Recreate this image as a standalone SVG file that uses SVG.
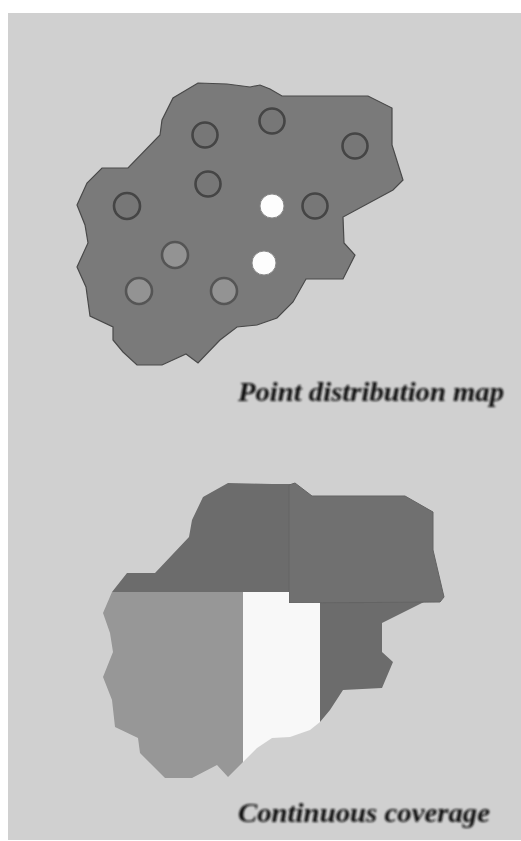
<svg xmlns="http://www.w3.org/2000/svg" width="521" height="841" viewBox="0 0 521 841">
<defs><filter id="soft" x="-5%" y="-5%" width="110%" height="110%"><feGaussianBlur stdDeviation="0.7"/></filter>
<filter id="softer" x="-5%" y="-20%" width="110%" height="140%"><feGaussianBlur stdDeviation="0.8"/></filter></defs>
<style>
.dot{stroke-width:2.6}
.d{fill:#777;stroke:#444}
.m{fill:#939393;stroke:#555}
.w{fill:#fdfdfd;stroke:#8a8a8a;stroke-width:1}
text{font-family:"Liberation Serif",serif;font-weight:bold;font-style:italic;font-size:27px;fill:#111}
</style>
<rect width="521" height="841" fill="#fff"/>
<rect x="8" y="13" width="513" height="827" fill="#d0d0d0"/>
<g filter="url(#soft)">
<g id="point-map">
<path id="region" fill="#7a7a7a" stroke="#4a4a4a" stroke-width="1.2" d="M198 83L227 84L250 87L260 85L270 89L282 96L368 96L392 108L392 145L403 180L393 190L343 217L344 243L355 255L343 279L306 279L293 302L277 318L257 325L237 327L220 340L198 363L186 354L162 365L137 365L123 352L113 340L113 327L90 316L86 287L77 267L88 243L85 225L77 205L87 183L102 168L128 168L160 135L162 120L173 98Z"/>
<g id="p1"><circle class="dot d" cx="205" cy="135" r="12.500"/></g>
<g id="p2"><circle class="dot d" cx="272" cy="121" r="12.500"/></g>
<g id="p3"><circle class="dot d" cx="355" cy="146" r="12.500"/></g>
<g id="p4"><circle class="dot d" cx="208" cy="184" r="12.500"/></g>
<g id="p5"><circle class="dot d" cx="127" cy="206" r="13"/></g>
<g id="p6"><circle class="dot d" cx="315" cy="206" r="12.500"/></g>
<g id="p7"><circle class="w" cx="272" cy="206" r="12"/></g>
<g id="p8"><circle class="w" cx="264" cy="263" r="12"/></g>
<g id="p9"><circle class="dot m" cx="175" cy="255" r="13"/></g>
<g id="p10"><circle class="dot m" cx="139" cy="291" r="13"/></g>
<g id="p11"><circle class="dot m" cx="224" cy="291" r="13"/></g>
</g>
<g id="coverage-map">
<path id="zone-nw" fill="#6c6c6c" d="M112 592L127 573L155 573L189 537L192 520L203 497L228 483L272 484L290 484L290 592Z"/>
<path id="zone-se" fill="#6c6c6c" d="M320 602L424 602L382 623L382 652L393 662L382 688L343 690L330 710L320 722Z"/>
<path id="zone-ne" fill="#707070" stroke="#646464" d="M289 485L295 483L312 496L405 496L433 512L433 550L444 597L440 602L289 603Z"/>
<path id="zone-white" fill="#f8f8f8" d="M243 592L289 592L289 603L320 603L320 722L310 730L290 737L272 738L257 748L243 762Z"/>
<path id="zone-sw" fill="#979797" d="M112 592L243 592L243 762L228 777L217 765L192 778L165 778L140 753L138 738L115 727L112 700L103 677L113 652L110 633L103 613Z"/>
</g>
</g>
<g filter="url(#softer)">
<text x="238" y="401" textLength="266" lengthAdjust="spacingAndGlyphs">Point distribution map</text>
<text x="238" y="822" textLength="252" lengthAdjust="spacingAndGlyphs">Continuous coverage</text>
</g>
</svg>
